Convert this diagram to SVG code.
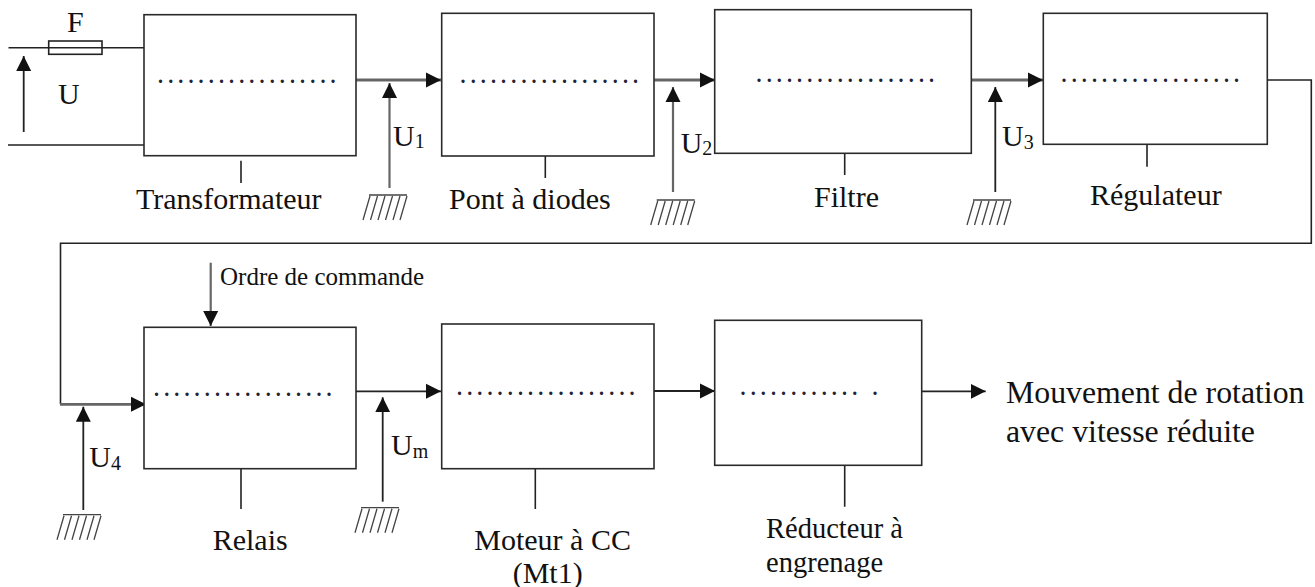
<svg xmlns="http://www.w3.org/2000/svg" width="1315" height="587" viewBox="0 0 1315 587">
<defs>
<marker id="ah" markerUnits="userSpaceOnUse" markerWidth="15" markerHeight="16" refX="15" refY="8" orient="auto"><path d="M0 0.5L15 8L0 15.500Z" fill="#111"/></marker>
<path id="gnd" d="M0 0H38M1 1L-6 25M8.500 1L1.500 25M16 1L9 25M23.500 1L16.500 25M31 1L24 25M38 1L31 25" fill="none" stroke="#444" stroke-width="1.300"/>
</defs>
<style>
text{font-family:"Liberation Serif","Times New Roman",serif;fill:#111}
.box{fill:#fff;stroke:#2a2a2a;stroke-width:1.600}
.w{fill:none;stroke:#222;stroke-width:1.600}
.t{fill:none;stroke:#222;stroke-width:1.800;marker-end:url(#ah)}
.g{fill:none;stroke:#666;stroke-width:2.200;marker-end:url(#ah)}
.k{fill:none;stroke:#666;stroke-width:2.800;marker-end:url(#ah)}
.d{font-size:20px;letter-spacing:5.150px;font-weight:bold;fill:#223}
.l{font-size:30px}
.n{font-size:28.500px}
.sub{font-size:20px}
.big{font-size:31.800px}
</style>
<rect width="1315" height="587" fill="#fff"/>
<g id="connectors">
<path class="w" d="M8.500 47.700H144M8 145H144"/>
<path class="t" d="M23.700 132V56"/>
<path class="k" d="M354 80H441"/>
<path class="g" d="M389.500 188V83"/>
<path class="k" d="M654 80H715"/>
<path class="g" d="M673 192V87"/>
<path class="k" d="M971 80H1043"/>
<path class="t" d="M995.300 192V87"/>
<path class="w" d="M1267 80H1311.300V243.300H60.500V404.300"/>
<path class="k" d="M60 404.300H146"/>
<path class="t" d="M83.300 510V406.700"/>
<path class="g" d="M210.700 262.700V326"/>
<path class="t" d="M354 391.300H441"/>
<path class="t" d="M382.700 501.700V397.300"/>
<path class="t" d="M654 391H715"/>
<path class="t" d="M921.700 391.300H985.700"/>
<path class="w" d="M241 160.700V183M545.300 156V178M844.700 153V175M1147 144V166.700M241 469V509M535.300 469V509M844.700 465V506.700"/>
<use href="#gnd" x="369" y="195"/>
<use href="#gnd" x="656.700" y="200"/>
<use href="#gnd" x="973" y="200"/>
<use href="#gnd" x="63" y="514.700"/>
<use href="#gnd" x="361" y="507.700"/>
</g>
<g id="fuse"><rect x="48.700" y="41" width="53.300" height="13.300" fill="none" stroke="#222" stroke-width="1.600"/><text class="l" x="67" y="32">F</text></g>
<text id="label-u" class="l" x="58" y="104">U</text>
<g id="transformateur"><rect class="box" x="144" y="14.700" width="212" height="141"/><text class="d" x="158" y="83">..................</text><text class="l" x="136" y="209">Transformateur</text></g>
<g id="u1"><text class="l" x="393" y="145.700">U<tspan class="sub" dy="2.500">1</tspan></text></g>
<g id="pont"><rect class="box" x="441.700" y="13.300" width="212.300" height="142.700"/><text class="d" x="460.500" y="83">..................</text><text class="l" x="449" y="209">Pont à diodes</text></g>
<g id="u2"><text class="l" x="680.700" y="152.700">U<tspan class="sub" dy="2.500">2</tspan></text></g>
<g id="filtre"><rect class="box" x="714.700" y="9.700" width="256.600" height="143.600"/><text class="d" x="756.500" y="82">..................</text><text class="l" x="814" y="207">Filtre</text></g>
<g id="u3"><text class="l" x="1002" y="146">U<tspan class="sub" dy="2.500">3</tspan></text></g>
<g id="regulateur"><rect class="box" x="1043.300" y="13.300" width="224" height="131"/><text class="d" x="1061.500" y="82">..................</text><text class="l" x="1090" y="205">Régulateur</text></g>
<text id="ordre" x="220" y="285" style="font-size:25px">Ordre de commande</text>
<g id="relais"><rect class="box" x="144" y="327.300" width="212" height="141.400"/><text class="d" x="154" y="396">..................</text><text class="l" x="212.700" y="550">Relais</text></g>
<g id="u4"><text class="l" x="89.300" y="467.300">U<tspan class="sub" dy="2.500">4</tspan></text></g>
<g id="um"><text class="l" x="391" y="455">U<tspan class="sub" dy="2.500">m</tspan></text></g>
<g id="moteur"><rect class="box" x="441.700" y="324" width="212.300" height="144.700"/><text class="d" x="457" y="395">..................</text><text class="l" x="474.300" y="550">Moteur à CC</text><text class="l" x="512.700" y="583">(Mt1)</text></g>
<g id="reducteur"><rect class="box" x="714.700" y="320.300" width="207" height="145"/><text class="d" x="740.500" y="395">............ .</text><text class="n" x="766" y="538.300">Réducteur à</text><text class="n" x="766" y="571.700">engrenage</text></g>
<g id="sortie"><text class="big" x="1006" y="403.300">Mouvement de rotation</text><text class="big" x="1006" y="441.700">avec vitesse réduite</text></g>
</svg>
